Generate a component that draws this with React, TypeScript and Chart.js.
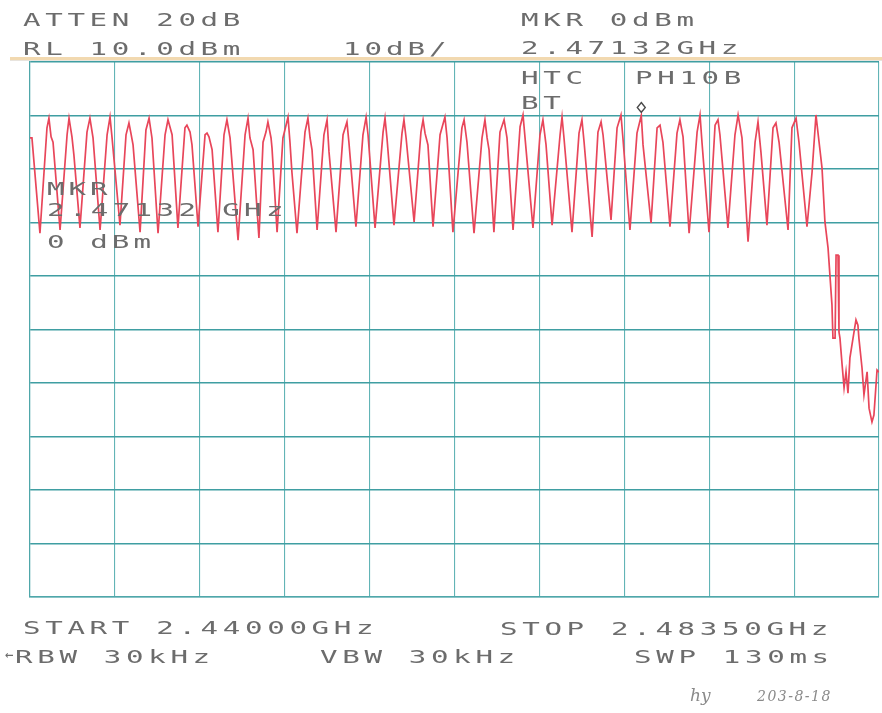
import React, { useEffect, useRef } from "react";
import { Chart, registerables } from "chart.js";

Chart.register(...registerables);

// Sweep: 2.44000 GHz .. 2.48350 GHz, RL 10 dBm, 10 dB/div
const startMHz = 2440.0;
const stopMHz = 2483.5;
const refLevelDbm = 10;
const dbPerDiv = 10;

const xGridMHz = [2440, 2444.35, 2448.7, 2453.05, 2457.4, 2461.75, 2466.1, 2470.45, 2474.8, 2479.15, 2483.5];
const yGridDbm = [10, 0, -10, -20, -30, -40, -50, -60, -70, -80, -90];

const markerFreqMHz = 2471.32;
const markerDbm = 0;

const freqMHz = [
  2440.00, 2440.10, 2440.51,
  2440.87, 2440.97, 2441.08, 2441.18, 2441.54,
  2441.90, 2442.00, 2442.15, 2442.25, 2442.56,
  2442.92, 2443.07, 2443.23, 2443.59,
  2443.95, 2444.10, 2444.20, 2444.61,
  2444.92, 2445.07, 2445.17, 2445.28, 2445.64,
  2445.94, 2446.10, 2446.25, 2446.56,
  2446.92, 2447.07, 2447.28, 2447.58,
  2447.94, 2448.04, 2448.20, 2448.30, 2448.61,
  2448.97, 2449.07, 2449.17, 2449.33, 2449.63,
  2449.94, 2450.09, 2450.25, 2450.66,
  2451.02, 2451.17, 2451.27, 2451.43, 2451.73,
  2451.94, 2452.09, 2452.19, 2452.35, 2452.40, 2452.66,
  2452.96, 2453.22, 2453.32, 2453.42, 2453.68,
  2453.89, 2454.09, 2454.24, 2454.35, 2454.45, 2454.71,
  2455.06, 2455.22, 2455.32, 2455.68,
  2456.04, 2456.24, 2456.34, 2456.70,
  2457.06, 2457.22, 2457.32, 2457.68,
  2458.09, 2458.19, 2458.29, 2458.65,
  2459.06, 2459.16, 2459.27, 2459.68,
  2460.03, 2460.14, 2460.24, 2460.39, 2460.65,
  2461.01, 2461.26, 2461.37, 2461.67,
  2462.13, 2462.24, 2462.39, 2462.75,
  2463.16, 2463.31, 2463.42, 2463.52, 2463.77,
  2464.08, 2464.29, 2464.44, 2464.75,
  2465.11, 2465.26, 2465.36, 2465.77,
  2466.13, 2466.28, 2466.44, 2466.75,
  2467.16, 2467.26, 2467.36, 2467.77,
  2468.13, 2468.28, 2468.39, 2468.80,
  2469.10, 2469.26, 2469.36, 2469.41, 2469.77,
  2470.08, 2470.28, 2470.38, 2470.74,
  2471.10, 2471.32, 2471.41, 2471.82,
  2472.13, 2472.28, 2472.43, 2472.79,
  2473.15, 2473.30, 2473.46, 2473.77,
  2474.18, 2474.33, 2474.43, 2474.79,
  2475.10, 2475.25, 2475.35, 2475.76,
  2476.12, 2476.28, 2476.48, 2476.79,
  2477.15, 2477.30, 2477.45, 2477.76,
  2478.07, 2478.22, 2478.38, 2478.84,
  2479.04, 2479.25, 2479.40, 2479.81,
  2480.07, 2480.27, 2480.43, 2480.58, 2480.73, 2480.89, 2481.09, 2481.14, 2481.25, 2481.30,
  2481.40, 2481.45, 2481.50, 2481.61, 2481.71, 2481.81, 2481.91, 2482.01, 2482.17, 2482.32,
  2482.42, 2482.47, 2482.63, 2482.73, 2482.89, 2482.99, 2483.14, 2483.24, 2483.40, 2483.50,
];

const levelDbm = [
  -4.2, -4.2, -22.0,
  -2.3, -0.5, -4.0, -5.0, -21.4,
  -3.6, -0.5, -4.0, -7.4, -21.0,
  -3.1, -0.5, -4.2, -21.4,
  -3.6, -0.3, -4.0, -20.5,
  -3.6, -1.4, -3.3, -5.5, -21.8,
  -2.7, -0.5, -4.2, -22.0,
  -3.6, -0.8, -3.6, -21.0,
  -2.3, -1.8, -3.1, -5.5, -20.8,
  -3.6, -3.3, -4.0, -6.4, -21.8,
  -3.6, -0.8, -4.2, -23.3,
  -3.6, -0.5, -4.2, -6.4, -22.9,
  -5.0, -3.1, -1.2, -4.2, -6.1, -21.8,
  -4.2, -0.3, -5.0, -10.6, -22.0,
  -12.1, -3.1, -0.5, -4.2, -6.4, -21.4,
  -3.6, -0.8, -6.8, -21.8,
  -3.6, -1.2, -5.0, -20.8,
  -3.6, -0.3, -3.6, -21.0,
  -3.1, -0.5, -4.2, -20.5,
  -3.3, -0.8, -4.2, -19.9,
  -3.1, -0.8, -3.3, -5.5, -20.8,
  -3.6, -0.3, -4.2, -21.8,
  -2.3, -0.8, -5.0, -22.0,
  -4.2, -0.8, -4.2, -6.4, -21.8,
  -3.1, -0.8, -4.2, -21.4,
  -2.1, 0.1, -4.0, -21.0,
  -3.6, -0.8, -5.5, -20.5,
  -3.6, -0.3, -4.2, -21.8,
  -3.3, -0.8, -5.0, -22.7,
  -3.1, -1.2, -3.6, -5.5, -19.5,
  -2.3, 0.1, -4.2, -21.4,
  -3.3, 0.0, -5.5, -20.1,
  -2.3, -1.8, -5.0, -20.8,
  -3.3, -0.8, -4.0, -22.0,
  -3.1, 0.1, -5.0, -21.8,
  -1.8, -0.8, -3.6, -21.0,
  -3.6, 0.1, -4.2, -23.6,
  -5.0, -1.2, -6.8, -20.5,
  -2.3, -1.4, -5.0, -21.4,
  -2.3, -0.5, -5.0, -20.8,
  -10.6, 0.1, -5.0, -9.8, -19.9, -24.8, -35.4, -41.6, -41.6, -26.1,
  -26.1, -40.5, -41.6, -46.6, -50.9, -47.9, -51.9, -45.3, -41.6, -38.2,
  -39.2, -41.6, -47.2, -52.2, -47.9, -54.7, -57.3, -56.0, -47.6, -48.0,
];

// Annotation texts of the analyzer printout
const topTexts = ["ATTEN 20dB", "RL 10.0dBm", "10dB/", "MKR 0dBm", "2.47132GHz", "HTC", "PH10B", "BT"];
const markerTexts = ["MKR", "2.47132 GHz", "0 dBm"];
const bottomTexts = ["START 2.44000GHz", "STOP 2.48350GHz", "RBW 30kHz", "VBW 30kHz", "SWP 130ms"];
const noteText = "203-8-18";

const MONO = '"DejaVu Sans Mono", "Liberation Mono", monospace';

function Label(props: { t: string; x: number; cap: number; adv?: number }) {
  const size = 18;
  const sx = 1.62;
  const adv = props.adv ?? 22.2;
  const ls = adv / sx - 0.602 * size;
  return (
    <div
      style={{
        position: "absolute",
        left: props.x,
        top: props.cap - 2.1,
        fontFamily: MONO,
        fontSize: size,
        lineHeight: `${size}px`,
        letterSpacing: `${ls}px`,
        transform: `scaleX(${sx})`,
        transformOrigin: "0 0",
        whiteSpace: "pre",
        color: "#6c6c6c",
      }}
    >
      {props.t}
    </div>
  );
}

export default function App() {
  const ref = useRef<HTMLCanvasElement | null>(null);

  useEffect(() => {
    if (!ref.current) return;
    const points = freqMHz.map((f, i) => ({ x: f, y: levelDbm[i] }));

    const markerPlugin = {
      id: "mkrDiamond",
      afterDatasetsDraw(chart: any) {
        const { ctx, scales } = chart;
        const px = scales.x.getPixelForValue(markerFreqMHz);
        const py = scales.y.getPixelForValue(markerDbm) - 8;
        ctx.save();
        ctx.strokeStyle = "#4a4a4a";
        ctx.lineWidth = 1.4;
        ctx.beginPath();
        ctx.moveTo(px, py - 5);
        ctx.lineTo(px + 4, py);
        ctx.lineTo(px, py + 5);
        ctx.lineTo(px - 4, py);
        ctx.closePath();
        ctx.stroke();
        ctx.restore();
      },
    };

    const chart = new Chart(ref.current, {
      type: "line",
      data: {
        datasets: [
          {
            data: points,
            borderColor: "#e8465a",
            borderWidth: 1.7,
            pointRadius: 0,
            tension: 0,
            fill: false,
          },
        ],
      },
      options: {
        animation: false,
        responsive: false,
        devicePixelRatio: 1,
        layout: { padding: { left: 30, top: 62, right: 3, bottom: 116 } },
        plugins: { legend: { display: false }, tooltip: { enabled: false } },
        scales: {
          x: {
            type: "linear",
            min: startMHz,
            max: stopMHz,
            afterBuildTicks: (s: any) => {
              s.ticks = xGridMHz.map((v) => ({ value: v }));
            },
            ticks: { display: false },
            grid: { color: "#62b4b6", lineWidth: 1.1, drawTicks: false },
            border: { display: true, color: "#4fa7aa", width: 1.2 },
          },
          y: {
            type: "linear",
            min: refLevelDbm - 10 * dbPerDiv,
            max: refLevelDbm,
            afterBuildTicks: (s: any) => {
              s.ticks = yGridDbm.map((v) => ({ value: v }));
            },
            ticks: { display: false },
            grid: { color: "#3f9ea2", lineWidth: 1.5, drawTicks: false },
            border: { display: true, color: "#4fa7aa", width: 1.2 },
          },
        },
      },
      plugins: [markerPlugin],
    } as any);
    return () => chart.destroy();
  }, []);

  return (
    <div
      style={{
        position: "fixed",
        left: 0,
        top: 0,
        width: 882,
        height: 713,
        background: "#ffffff",
        overflow: "hidden",
      }}
    >
      <canvas ref={ref} width={882} height={713} style={{ position: "absolute", left: 0, top: 0, display: "block" }} />
      <div style={{ position: "absolute", left: 10, top: 57, width: 872, height: 3, background: "#f2d9b0" }} />
      <div style={{ position: "absolute", left: 10, top: 60, width: 872, height: 1, background: "#e8e4de" }} />

      <Label t={topTexts[0]} x={23} cap={13} />
      <Label t={topTexts[1]} x={23} cap={42} />
      <Label t={topTexts[2]} x={343} cap={42} adv={21.5} />
      <Label t={topTexts[3]} x={521} cap={13} />
      <Label t={topTexts[4]} x={521} cap={41} />
      <Label t={topTexts[5]} x={521} cap={71} />
      <Label t={topTexts[6]} x={635} cap={71} />
      <Label t={topTexts[7]} x={521} cap={96} />

      <Label t={markerTexts[0]} x={47} cap={182} adv={21.5} />
      <Label t={markerTexts[1]} x={47} cap={203} adv={21.9} />
      <Label t={markerTexts[2]} x={47} cap={235} adv={21.6} />

      <Label t={bottomTexts[0]} x={23} cap={621} />
      <Label t={bottomTexts[1]} x={500} cap={622} />
      <div
        style={{
          position: "absolute",
          left: 5,
          top: 647,
          fontFamily: MONO,
          fontSize: 14,
          lineHeight: "14px",
          color: "#6c6c6c",
        }}
      >
        ←
      </div>
      <Label t={bottomTexts[2]} x={15} cap={650} />
      <Label t={bottomTexts[3]} x={320} cap={650} />
      <Label t={bottomTexts[4]} x={634} cap={650} />

      <div
        style={{
          position: "absolute",
          left: 690,
          top: 685,
          fontFamily: '"DejaVu Serif", serif',
          fontStyle: "italic",
          fontSize: 17,
          color: "#8a8a8a",
          whiteSpace: "pre",
        }}
      >
        hy
      </div>
      <div
        style={{
          position: "absolute",
          left: 757,
          top: 688,
          fontFamily: '"DejaVu Serif", serif',
          fontStyle: "italic",
          fontSize: 14,
          color: "#8a8a8a",
          whiteSpace: "pre",
          letterSpacing: "1.5px",
        }}
      >
        {noteText}
      </div>
    </div>
  );
}
